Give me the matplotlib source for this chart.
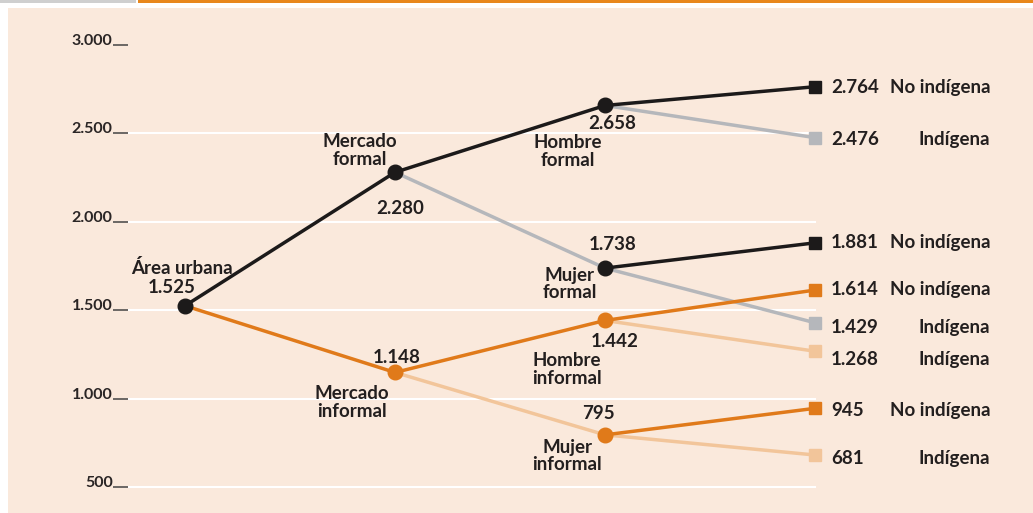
import matplotlib
matplotlib.use("Agg")
import matplotlib.pyplot as plt
from matplotlib.patches import Rectangle
import matplotlib.transforms as mtransforms

plt.rcParams['font.family'] = ['Lato', 'DejaVu Sans']

# ---- data ----
root_label = "Área urbana"
root_value = 1525
mercado_labels = ["Mercado\nformal", "Mercado\ninformal"]
mercado_values = [2280, 1148]
grupo_labels = ["Hombre\nformal", "Mujer\nformal", "Hombre\ninformal", "Mujer\ninformal"]
grupo_values = [2658, 1738, 1442, 795]
grupo_parent = [0, 0, 1, 1]
no_indigena = [2764, 1881, 1614, 945]
indigena = [2476, 1429, 1268, 681]
leaf_names = ["No indígena", "Indígena"]
yticks = [500, 1000, 1500, 2000, 2500, 3000]

# ---- style ----
BLACK = "#1c1a1a"
GRAY = "#b5b7bb"
ORANGE = "#e07a1a"
LORANGE = "#f2c59a"
BG = "#fae9dc"
dark_cols = [BLACK, ORANGE]
grupo_dark = [BLACK, BLACK, ORANGE, ORANGE]
grupo_leaf_dark = [BLACK, BLACK, ORANGE, ORANGE]
grupo_leaf_light = [GRAY, GRAY, LORANGE, LORANGE]
grupo_in_col = [BLACK, GRAY, ORANGE, LORANGE]

def fmt(v):
    return f"{v:,}".replace(",", ".")

W, H = 1033, 513
fig = plt.figure(figsize=(W / 100, H / 100), dpi=100, facecolor="white")
fig.patches.append(Rectangle((8 / W, 0), 1 - 8 / W, 1 - 8 / H, transform=fig.transFigure,
                             facecolor=BG, edgecolor="none", zorder=-10))
fig.patches.append(Rectangle((138 / W, 1 - 3 / H), 1, 3 / H, transform=fig.transFigure,
                             facecolor="#e8871c", edgecolor="none", zorder=-9))
fig.patches.append(Rectangle((0, 1 - 3 / H), 136 / W, 3 / H, transform=fig.transFigure,
                             facecolor="#cfcfcf", edgecolor="none", zorder=-9))

left = 128
ax = fig.add_axes([left / W, 0, 1 - left / W, 1])
ax.set_facecolor("none")
ax.set_xlim((left - 185) / 210, (W - 185) / 210)
ax.set_ylim(353, 3254.5)
for s in ax.spines.values():
    s.set_visible(False)
ax.set_xticks([])
ax.set_yticks(yticks)
ax.set_yticklabels([fmt(v) for v in yticks])
ax.tick_params(axis="y", length=11, width=1.1, color="#444444", pad=0,
               labelsize=11.5, labelcolor="#2a2525")
shift = mtransforms.ScaledTranslation(0, -3 / 100, fig.dpi_scale_trans)
for lab_ in ax.get_yticklabels():
    lab_.set_va("bottom")
    lab_.set_fontweight("bold")
    lab_.set_transform(lab_.get_transform() + shift)

# grid lines (white)
for v in yticks[:-1]:
    ax.plot([ax.get_xlim()[0], 3], [v, v], color="white", lw=1.5, zorder=1)

LW = 2.5
x0, x1, x2, x3 = 0, 1, 2, 3
for i in range(4):
    ax.plot([x2, x3], [grupo_values[i], indigena[i]], color=grupo_leaf_light[i], lw=LW, zorder=2)
for i in range(4):
    p = grupo_parent[i]
    if grupo_in_col[i] in (GRAY, LORANGE):
        ax.plot([x1, x2], [mercado_values[p], grupo_values[i]], color=grupo_in_col[i], lw=LW, zorder=2)
ax.plot([x0, x1], [root_value, mercado_values[1]], color=ORANGE, lw=LW, zorder=3)
ax.plot([x0, x1], [root_value, mercado_values[0]], color=BLACK, lw=LW, zorder=3)
for i in range(4):
    p = grupo_parent[i]
    if grupo_in_col[i] in (BLACK, ORANGE):
        ax.plot([x1, x2], [mercado_values[p], grupo_values[i]], color=grupo_in_col[i], lw=LW, zorder=3)
    ax.plot([x2, x3], [grupo_values[i], no_indigena[i]], color=grupo_leaf_dark[i], lw=LW, zorder=3)

MS = 10.5
ax.plot([x0], [root_value], "o", color=BLACK, ms=MS, zorder=5)
for j in range(2):
    ax.plot([x1], [mercado_values[j]], "o", color=dark_cols[j], ms=MS, zorder=5)
for i in range(4):
    ax.plot([x2], [grupo_values[i]], "o", color=grupo_dark[i], ms=MS, zorder=5)
    ax.plot([x3], [no_indigena[i]], "s", color=grupo_leaf_dark[i], ms=9, zorder=5)
    ax.plot([x3], [indigena[i]], "s", color=grupo_leaf_light[i], ms=9, zorder=5)

TXT = dict(fontsize=13.5, fontweight="bold", color="#231f1f", textcoords="offset pixels",
           ha="center", va="center", linespacing=1.05)

def lab(text, x, y, dx, dy, **kw):
    d = dict(TXT)
    d.update(kw)
    ax.annotate(text, (x, y), xytext=(dx, dy), **d)

lab(root_label, x0, root_value, -3, 38)
lab(fmt(root_value), x0, root_value, -13, 18)

merc_name_off = [(-35, 22), (-43, -30)]
merc_val_off = [(5, -36), (2, 15)]
for j in range(2):
    lab(mercado_labels[j], x1, mercado_values[j], *merc_name_off[j])
    lab(fmt(mercado_values[j]), x1, mercado_values[j], *merc_val_off[j])

grp_name_off = [(-37, -46), (-35, -16), (-38, -49), (-38, -21)]
grp_val_off = [(7, -18), (8, 24), (10, -21), (-7, 21)]
for i in range(4):
    lab(grupo_labels[i], x2, grupo_values[i], *grp_name_off[i])
    lab(fmt(grupo_values[i]), x2, grupo_values[i], *grp_val_off[i])

leaf_dy_no = [-1, 0, 1, -2]
leaf_dy_in = [-2, -5, -8, -3]
for i in range(4):
    lab(fmt(no_indigena[i]), x3, no_indigena[i], 16, leaf_dy_no[i], ha="left")
    lab(leaf_names[0], x3, no_indigena[i], 175, leaf_dy_no[i], ha="right")
    lab(fmt(indigena[i]), x3, indigena[i], 16, leaf_dy_in[i], ha="left")
    lab(leaf_names[1], x3, indigena[i], 175, leaf_dy_in[i], ha="right")

fig.savefig("out.png", dpi=100, facecolor="white")
